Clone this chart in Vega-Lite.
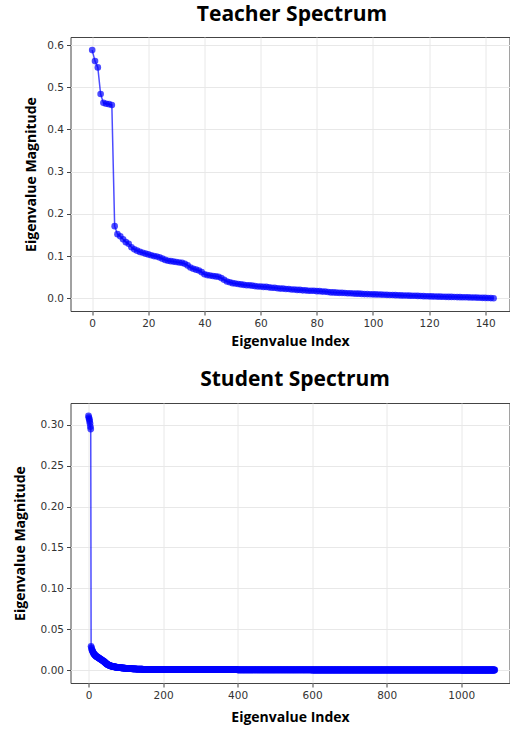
{
"$schema": "https://vega.github.io/schema/vega-lite/v6.json",
"padding": {"left": 12.5, "top": 3, "right": 0, "bottom": 0},
"spacing": 19,
"config": {
 "view": {"stroke": "#444", "strokeWidth": 1},
 "axis": {"grid": true, "gridColor": "#e8e8e8", "gridWidth": 1, "domain": false, "tickColor": "#444", "tickSize": 4, "labelFont": "DejaVu Sans", "labelFontSize": 10.5, "labelColor": "#333", "labelPadding": 3, "titleFont": "Open Sans", "titleFontSize": 14, "titleFontWeight": "bold", "titleColor": "#000"},
 "title": {"font": "Open Sans", "fontSize": 21, "fontWeight": "bold", "color": "#000", "anchor": "middle", "baseline": "alphabetic"}
},
"datasets": {
"teacher": [
{"i":0,"v":0.588},{"i":1,"v":0.562},{"i":2,"v":0.547},{"i":3,"v":0.484},{"i":4,"v":0.463},{"i":5,"v":0.461},{"i":6,"v":0.46},{"i":7,"v":0.458},{"i":8,"v":0.171},{"i":9,"v":0.152},
{"i":10,"v":0.147},{"i":11,"v":0.14},{"i":12,"v":0.133},{"i":13,"v":0.129},{"i":14,"v":0.121},{"i":15,"v":0.116},{"i":16,"v":0.113},{"i":17,"v":0.11},{"i":18,"v":0.108},{"i":19,"v":0.106},
{"i":20,"v":0.104},{"i":21,"v":0.102},{"i":22,"v":0.1},{"i":23,"v":0.099},{"i":24,"v":0.097},{"i":25,"v":0.094},{"i":26,"v":0.091},{"i":27,"v":0.089},{"i":28,"v":0.088},{"i":29,"v":0.087},
{"i":30,"v":0.086},{"i":31,"v":0.085},{"i":32,"v":0.084},{"i":33,"v":0.082},{"i":34,"v":0.078},{"i":35,"v":0.073},{"i":36,"v":0.07},{"i":37,"v":0.068},{"i":38,"v":0.066},{"i":39,"v":0.062},
{"i":40,"v":0.057},{"i":41,"v":0.055},{"i":42,"v":0.054},{"i":43,"v":0.053},{"i":44,"v":0.052},{"i":45,"v":0.051},{"i":46,"v":0.048},{"i":47,"v":0.044},{"i":48,"v":0.04},{"i":49,"v":0.038},
{"i":50,"v":0.036},{"i":51,"v":0.035},{"i":52,"v":0.034},{"i":53,"v":0.033},{"i":54,"v":0.032},{"i":55,"v":0.031},{"i":56,"v":0.031},{"i":57,"v":0.03},{"i":58,"v":0.029},{"i":59,"v":0.028},
{"i":60,"v":0.028},{"i":61,"v":0.027},{"i":62,"v":0.027},{"i":63,"v":0.026},{"i":64,"v":0.025},{"i":65,"v":0.025},{"i":66,"v":0.024},{"i":67,"v":0.023},{"i":68,"v":0.023},{"i":69,"v":0.022},
{"i":70,"v":0.022},{"i":71,"v":0.021},{"i":72,"v":0.021},{"i":73,"v":0.02},{"i":74,"v":0.02},{"i":75,"v":0.019},{"i":76,"v":0.019},{"i":77,"v":0.018},{"i":78,"v":0.018},{"i":79,"v":0.018},
{"i":80,"v":0.017},{"i":81,"v":0.017},{"i":82,"v":0.016},{"i":83,"v":0.016},{"i":84,"v":0.015},{"i":85,"v":0.014},{"i":86,"v":0.014},{"i":87,"v":0.0135},{"i":88,"v":0.013},{"i":89,"v":0.013},
{"i":90,"v":0.0125},{"i":91,"v":0.012},{"i":92,"v":0.012},{"i":93,"v":0.0115},{"i":94,"v":0.011},{"i":95,"v":0.011},{"i":96,"v":0.0105},{"i":97,"v":0.01},{"i":98,"v":0.01},{"i":99,"v":0.0098},
{"i":100,"v":0.0095},{"i":101,"v":0.0093},{"i":102,"v":0.009},{"i":103,"v":0.0088},{"i":104,"v":0.0086},{"i":105,"v":0.0083},{"i":106,"v":0.008},{"i":107,"v":0.0078},{"i":108,"v":0.0076},{"i":109,"v":0.0073},
{"i":110,"v":0.007},{"i":111,"v":0.0068},{"i":112,"v":0.0066},{"i":113,"v":0.0064},{"i":114,"v":0.0062},{"i":115,"v":0.006},{"i":116,"v":0.0058},{"i":117,"v":0.0055},{"i":118,"v":0.0052},{"i":119,"v":0.005},
{"i":120,"v":0.0047},{"i":121,"v":0.0045},{"i":122,"v":0.0043},{"i":123,"v":0.0041},{"i":124,"v":0.004},{"i":125,"v":0.0038},{"i":126,"v":0.0036},{"i":127,"v":0.0034},{"i":128,"v":0.0033},{"i":129,"v":0.0031},
{"i":130,"v":0.003},{"i":131,"v":0.0028},{"i":132,"v":0.0026},{"i":133,"v":0.0025},{"i":134,"v":0.0023},{"i":135,"v":0.0021},{"i":136,"v":0.0019},{"i":137,"v":0.0017},{"i":138,"v":0.0014},{"i":139,"v":0.0012},
{"i":140,"v":0.001},{"i":141,"v":0.0008},{"i":142,"v":0.0005},{"i":143,"v":0.0002}
],
"student": [
{"i":0,"v":0.311},{"i":1,"v":0.309},{"i":2,"v":0.307},{"i":3,"v":0.305},{"i":4,"v":0.302},{"i":5,"v":0.298},{"i":6,"v":0.295},{"i":7,"v":0.029},{"i":8,"v":0.027},{"i":9,"v":0.025},
{"i":10,"v":0.024},{"i":11,"v":0.023},{"i":12,"v":0.022},{"i":13,"v":0.021},{"i":14,"v":0.02},{"i":15,"v":0.0195},{"i":16,"v":0.019},{"i":17,"v":0.0185},{"i":18,"v":0.018},{"i":19,"v":0.0175},
{"i":20,"v":0.017},{"i":21,"v":0.0167},{"i":22,"v":0.0164},{"i":23,"v":0.0161},{"i":24,"v":0.0158},{"i":25,"v":0.0155},{"i":26,"v":0.0152},{"i":27,"v":0.0149},{"i":28,"v":0.0146},{"i":29,"v":0.0143},
{"i":30,"v":0.014},{"i":31,"v":0.0137},{"i":32,"v":0.0134},{"i":33,"v":0.0131},{"i":34,"v":0.0128},{"i":35,"v":0.0125},{"i":36,"v":0.0122},{"i":37,"v":0.0119},{"i":38,"v":0.0116},{"i":39,"v":0.0113},
{"i":40,"v":0.011},{"i":41,"v":0.0106},{"i":42,"v":0.0102},{"i":43,"v":0.0098},{"i":44,"v":0.0094},{"i":45,"v":0.009},{"i":46,"v":0.0086},{"i":47,"v":0.0082},{"i":48,"v":0.0078},{"i":49,"v":0.0075},
{"i":50,"v":0.0072},{"i":51,"v":0.0069},{"i":52,"v":0.0066},{"i":53,"v":0.0063},{"i":54,"v":0.0061},{"i":55,"v":0.0059},{"i":56,"v":0.0057},{"i":57,"v":0.0055},{"i":58,"v":0.0053},{"i":59,"v":0.0051},
{"i":60,"v":0.005},{"i":61,"v":0.0048},{"i":62,"v":0.0047},{"i":63,"v":0.0046},{"i":64,"v":0.0045},{"i":65,"v":0.0044},{"i":66,"v":0.0043},{"i":67,"v":0.0042},{"i":68,"v":0.0041},{"i":69,"v":0.004},
{"i":70,"v":0.0039},{"i":71,"v":0.0038},{"i":72,"v":0.0037},{"i":73,"v":0.0036},{"i":74,"v":0.0035},{"i":75,"v":0.0034},{"i":76,"v":0.0034},{"i":77,"v":0.0033},{"i":78,"v":0.0033},{"i":79,"v":0.0032},
{"i":80,"v":0.0032},{"i":81,"v":0.0031},{"i":82,"v":0.0031},{"i":83,"v":0.003},{"i":84,"v":0.0029},{"i":85,"v":0.0029},{"i":86,"v":0.0028},{"i":87,"v":0.0028},{"i":88,"v":0.0027},{"i":89,"v":0.0027},
{"i":90,"v":0.0026},{"i":91,"v":0.0026},{"i":92,"v":0.0025},{"i":93,"v":0.0025},{"i":94,"v":0.0024},{"i":95,"v":0.0024},{"i":96,"v":0.0023},{"i":97,"v":0.0023},{"i":98,"v":0.0022},{"i":99,"v":0.0022},
{"i":100,"v":0.0021},{"i":101,"v":0.0021},{"i":102,"v":0.0021},{"i":103,"v":0.002},{"i":104,"v":0.002},{"i":105,"v":0.0019},{"i":106,"v":0.0019},{"i":107,"v":0.0019},{"i":108,"v":0.0018},{"i":109,"v":0.0018},
{"i":110,"v":0.0018},{"i":111,"v":0.0017},{"i":112,"v":0.0017},{"i":113,"v":0.0017},{"i":114,"v":0.0016},{"i":115,"v":0.0016},{"i":116,"v":0.0016},{"i":117,"v":0.0015},{"i":118,"v":0.0015},{"i":119,"v":0.0015},
{"i":120,"v":0.0014},{"i":121,"v":0.0014},{"i":122,"v":0.0014},{"i":123,"v":0.0014},{"i":124,"v":0.0013},{"i":125,"v":0.0013},{"i":126,"v":0.0013},{"i":127,"v":0.0013},{"i":128,"v":0.0012},{"i":129,"v":0.0012},
{"i":130,"v":0.0012},{"i":131,"v":0.0012},{"i":132,"v":0.0012},{"i":133,"v":0.0011},{"i":134,"v":0.0011},{"i":135,"v":0.0011},{"i":136,"v":0.0011},{"i":137,"v":0.0011},{"i":138,"v":0.0011},{"i":139,"v":0.0011},
{"i":140,"v":0.001},{"i":141,"v":0.001},{"i":142,"v":0.001},{"i":143,"v":0.001},{"i":144,"v":0.001},{"i":145,"v":0.001},{"i":146,"v":0.0009},{"i":147,"v":0.0009},{"i":148,"v":0.0009},{"i":149,"v":0.0009},
{"i":150,"v":0.0009},{"i":151,"v":0.0009},{"i":152,"v":0.0009},{"i":153,"v":0.0009},{"i":154,"v":0.0009},{"i":155,"v":0.0009},{"i":156,"v":0.0009},{"i":157,"v":0.0009},{"i":158,"v":0.0009},{"i":159,"v":0.0009},
{"i":160,"v":0.0009},{"i":161,"v":0.0009},{"i":162,"v":0.0009},{"i":163,"v":0.0009},{"i":164,"v":0.0009},{"i":165,"v":0.0009},{"i":166,"v":0.0009},{"i":167,"v":0.0009},{"i":168,"v":0.0009},{"i":169,"v":0.0009},
{"i":170,"v":0.0009},{"i":171,"v":0.0009},{"i":172,"v":0.0009},{"i":173,"v":0.0009},{"i":174,"v":0.0009},{"i":175,"v":0.0009},{"i":176,"v":0.0009},{"i":177,"v":0.0009},{"i":178,"v":0.0009},{"i":179,"v":0.0009},
{"i":180,"v":0.0008},{"i":181,"v":0.0008},{"i":182,"v":0.0008},{"i":183,"v":0.0008},{"i":184,"v":0.0008},{"i":185,"v":0.0008},{"i":186,"v":0.0008},{"i":187,"v":0.0008},{"i":188,"v":0.0008},{"i":189,"v":0.0008},
{"i":190,"v":0.0008},{"i":191,"v":0.0008},{"i":192,"v":0.0008},{"i":193,"v":0.0008},{"i":194,"v":0.0008},{"i":195,"v":0.0008},{"i":196,"v":0.0008},{"i":197,"v":0.0008},{"i":198,"v":0.0008},{"i":199,"v":0.0008},
{"i":200,"v":0.0008},{"i":201,"v":0.0008},{"i":202,"v":0.0008},{"i":203,"v":0.0008},{"i":204,"v":0.0008},{"i":205,"v":0.0008},{"i":206,"v":0.0008},{"i":207,"v":0.0008},{"i":208,"v":0.0008},{"i":209,"v":0.0008},
{"i":210,"v":0.0008},{"i":211,"v":0.0008},{"i":212,"v":0.0008},{"i":213,"v":0.0008},{"i":214,"v":0.0008},{"i":215,"v":0.0008},{"i":216,"v":0.0008},{"i":217,"v":0.0008},{"i":218,"v":0.0008},{"i":219,"v":0.0008},
{"i":220,"v":0.0007},{"i":221,"v":0.0007},{"i":222,"v":0.0007},{"i":223,"v":0.0007},{"i":224,"v":0.0007},{"i":225,"v":0.0007},{"i":226,"v":0.0007},{"i":227,"v":0.0007},{"i":228,"v":0.0007},{"i":229,"v":0.0007},
{"i":230,"v":0.0007},{"i":231,"v":0.0007},{"i":232,"v":0.0007},{"i":233,"v":0.0007},{"i":234,"v":0.0007},{"i":235,"v":0.0007},{"i":236,"v":0.0007},{"i":237,"v":0.0007},{"i":238,"v":0.0007},{"i":239,"v":0.0007},
{"i":240,"v":0.0007},{"i":241,"v":0.0007},{"i":242,"v":0.0007},{"i":243,"v":0.0007},{"i":244,"v":0.0007},{"i":245,"v":0.0007},{"i":246,"v":0.0007},{"i":247,"v":0.0007},{"i":248,"v":0.0007},{"i":249,"v":0.0007},
{"i":250,"v":0.0007},{"i":251,"v":0.0007},{"i":252,"v":0.0007},{"i":253,"v":0.0007},{"i":254,"v":0.0007},{"i":255,"v":0.0007},{"i":256,"v":0.0007},{"i":257,"v":0.0007},{"i":258,"v":0.0007},{"i":259,"v":0.0007},
{"i":260,"v":0.0006},{"i":261,"v":0.0006},{"i":262,"v":0.0006},{"i":263,"v":0.0006},{"i":264,"v":0.0006},{"i":265,"v":0.0006},{"i":266,"v":0.0006},{"i":267,"v":0.0006},{"i":268,"v":0.0006},{"i":269,"v":0.0006},
{"i":270,"v":0.0006},{"i":271,"v":0.0006},{"i":272,"v":0.0006},{"i":273,"v":0.0006},{"i":274,"v":0.0006},{"i":275,"v":0.0006},{"i":276,"v":0.0006},{"i":277,"v":0.0006},{"i":278,"v":0.0006},{"i":279,"v":0.0006},
{"i":280,"v":0.0006},{"i":281,"v":0.0006},{"i":282,"v":0.0006},{"i":283,"v":0.0006},{"i":284,"v":0.0006},{"i":285,"v":0.0006},{"i":286,"v":0.0006},{"i":287,"v":0.0006},{"i":288,"v":0.0006},{"i":289,"v":0.0006},
{"i":290,"v":0.0006},{"i":291,"v":0.0006},{"i":292,"v":0.0006},{"i":293,"v":0.0006},{"i":294,"v":0.0006},{"i":295,"v":0.0006},{"i":296,"v":0.0006},{"i":297,"v":0.0006},{"i":298,"v":0.0006},{"i":299,"v":0.0006},
{"i":300,"v":0.0005},{"i":301,"v":0.0005},{"i":302,"v":0.0005},{"i":303,"v":0.0005},{"i":304,"v":0.0005},{"i":305,"v":0.0005},{"i":306,"v":0.0005},{"i":307,"v":0.0005},{"i":308,"v":0.0005},{"i":309,"v":0.0005},
{"i":310,"v":0.0005},{"i":311,"v":0.0005},{"i":312,"v":0.0005},{"i":313,"v":0.0005},{"i":314,"v":0.0005},{"i":315,"v":0.0005},{"i":316,"v":0.0005},{"i":317,"v":0.0005},{"i":318,"v":0.0005},{"i":319,"v":0.0005},
{"i":320,"v":0.0005},{"i":321,"v":0.0005},{"i":322,"v":0.0005},{"i":323,"v":0.0005},{"i":324,"v":0.0005},{"i":325,"v":0.0005},{"i":326,"v":0.0005},{"i":327,"v":0.0005},{"i":328,"v":0.0005},{"i":329,"v":0.0005},
{"i":330,"v":0.0005},{"i":331,"v":0.0005},{"i":332,"v":0.0005},{"i":333,"v":0.0005},{"i":334,"v":0.0005},{"i":335,"v":0.0005},{"i":336,"v":0.0005},{"i":337,"v":0.0005},{"i":338,"v":0.0005},{"i":339,"v":0.0005},
{"i":340,"v":0.0005},{"i":341,"v":0.0005},{"i":342,"v":0.0005},{"i":343,"v":0.0005},{"i":344,"v":0.0005},{"i":345,"v":0.0005},{"i":346,"v":0.0005},{"i":347,"v":0.0005},{"i":348,"v":0.0005},{"i":349,"v":0.0005},
{"i":350,"v":0.0004},{"i":351,"v":0.0004},{"i":352,"v":0.0004},{"i":353,"v":0.0004},{"i":354,"v":0.0004},{"i":355,"v":0.0004},{"i":356,"v":0.0004},{"i":357,"v":0.0004},{"i":358,"v":0.0004},{"i":359,"v":0.0004},
{"i":360,"v":0.0004},{"i":361,"v":0.0004},{"i":362,"v":0.0004},{"i":363,"v":0.0004},{"i":364,"v":0.0004},{"i":365,"v":0.0004},{"i":366,"v":0.0004},{"i":367,"v":0.0004},{"i":368,"v":0.0004},{"i":369,"v":0.0004},
{"i":370,"v":0.0004},{"i":371,"v":0.0004},{"i":372,"v":0.0004},{"i":373,"v":0.0004},{"i":374,"v":0.0004},{"i":375,"v":0.0004},{"i":376,"v":0.0004},{"i":377,"v":0.0004},{"i":378,"v":0.0004},{"i":379,"v":0.0004},
{"i":380,"v":0.0004},{"i":381,"v":0.0004},{"i":382,"v":0.0004},{"i":383,"v":0.0004},{"i":384,"v":0.0004},{"i":385,"v":0.0004},{"i":386,"v":0.0004},{"i":387,"v":0.0004},{"i":388,"v":0.0004},{"i":389,"v":0.0004},
{"i":390,"v":0.0004},{"i":391,"v":0.0004},{"i":392,"v":0.0004},{"i":393,"v":0.0004},{"i":394,"v":0.0004},{"i":395,"v":0.0004},{"i":396,"v":0.0004},{"i":397,"v":0.0004},{"i":398,"v":0.0004},{"i":399,"v":0.0004},
{"i":400,"v":0.0003},{"i":401,"v":0.0003},{"i":402,"v":0.0003},{"i":403,"v":0.0003},{"i":404,"v":0.0003},{"i":405,"v":0.0003},{"i":406,"v":0.0003},{"i":407,"v":0.0003},{"i":408,"v":0.0003},{"i":409,"v":0.0003},
{"i":410,"v":0.0003},{"i":411,"v":0.0003},{"i":412,"v":0.0003},{"i":413,"v":0.0003},{"i":414,"v":0.0003},{"i":415,"v":0.0003},{"i":416,"v":0.0003},{"i":417,"v":0.0003},{"i":418,"v":0.0003},{"i":419,"v":0.0003},
{"i":420,"v":0.0003},{"i":421,"v":0.0003},{"i":422,"v":0.0003},{"i":423,"v":0.0003},{"i":424,"v":0.0003},{"i":425,"v":0.0003},{"i":426,"v":0.0003},{"i":427,"v":0.0003},{"i":428,"v":0.0003},{"i":429,"v":0.0003},
{"i":430,"v":0.0003},{"i":431,"v":0.0003},{"i":432,"v":0.0003},{"i":433,"v":0.0003},{"i":434,"v":0.0003},{"i":435,"v":0.0003},{"i":436,"v":0.0003},{"i":437,"v":0.0003},{"i":438,"v":0.0003},{"i":439,"v":0.0003},
{"i":440,"v":0.0003},{"i":441,"v":0.0003},{"i":442,"v":0.0003},{"i":443,"v":0.0003},{"i":444,"v":0.0003},{"i":445,"v":0.0003},{"i":446,"v":0.0003},{"i":447,"v":0.0003},{"i":448,"v":0.0003},{"i":449,"v":0.0003},
{"i":450,"v":0.0003},{"i":451,"v":0.0003},{"i":452,"v":0.0003},{"i":453,"v":0.0003},{"i":454,"v":0.0003},{"i":455,"v":0.0003},{"i":456,"v":0.0003},{"i":457,"v":0.0003},{"i":458,"v":0.0003},{"i":459,"v":0.0003},
{"i":460,"v":0.0003},{"i":461,"v":0.0003},{"i":462,"v":0.0003},{"i":463,"v":0.0003},{"i":464,"v":0.0003},{"i":465,"v":0.0003},{"i":466,"v":0.0003},{"i":467,"v":0.0003},{"i":468,"v":0.0003},{"i":469,"v":0.0003},
{"i":470,"v":0.0003},{"i":471,"v":0.0003},{"i":472,"v":0.0003},{"i":473,"v":0.0003},{"i":474,"v":0.0003},{"i":475,"v":0.0003},{"i":476,"v":0.0003},{"i":477,"v":0.0003},{"i":478,"v":0.0003},{"i":479,"v":0.0003},
{"i":480,"v":0.0002},{"i":481,"v":0.0002},{"i":482,"v":0.0002},{"i":483,"v":0.0002},{"i":484,"v":0.0002},{"i":485,"v":0.0002},{"i":486,"v":0.0002},{"i":487,"v":0.0002},{"i":488,"v":0.0002},{"i":489,"v":0.0002},
{"i":490,"v":0.0002},{"i":491,"v":0.0002},{"i":492,"v":0.0002},{"i":493,"v":0.0002},{"i":494,"v":0.0002},{"i":495,"v":0.0002},{"i":496,"v":0.0002},{"i":497,"v":0.0002},{"i":498,"v":0.0002},{"i":499,"v":0.0002},
{"i":500,"v":0.0002},{"i":501,"v":0.0002},{"i":502,"v":0.0002},{"i":503,"v":0.0002},{"i":504,"v":0.0002},{"i":505,"v":0.0002},{"i":506,"v":0.0002},{"i":507,"v":0.0002},{"i":508,"v":0.0002},{"i":509,"v":0.0002},
{"i":510,"v":0.0002},{"i":511,"v":0.0002},{"i":512,"v":0.0002},{"i":513,"v":0.0002},{"i":514,"v":0.0002},{"i":515,"v":0.0002},{"i":516,"v":0.0002},{"i":517,"v":0.0002},{"i":518,"v":0.0002},{"i":519,"v":0.0002},
{"i":520,"v":0.0002},{"i":521,"v":0.0002},{"i":522,"v":0.0002},{"i":523,"v":0.0002},{"i":524,"v":0.0002},{"i":525,"v":0.0002},{"i":526,"v":0.0002},{"i":527,"v":0.0002},{"i":528,"v":0.0002},{"i":529,"v":0.0002},
{"i":530,"v":0.0002},{"i":531,"v":0.0002},{"i":532,"v":0.0002},{"i":533,"v":0.0002},{"i":534,"v":0.0002},{"i":535,"v":0.0002},{"i":536,"v":0.0002},{"i":537,"v":0.0002},{"i":538,"v":0.0002},{"i":539,"v":0.0002},
{"i":540,"v":0.0002},{"i":541,"v":0.0002},{"i":542,"v":0.0002},{"i":543,"v":0.0002},{"i":544,"v":0.0002},{"i":545,"v":0.0002},{"i":546,"v":0.0002},{"i":547,"v":0.0002},{"i":548,"v":0.0002},{"i":549,"v":0.0002},
{"i":550,"v":0.0002},{"i":551,"v":0.0002},{"i":552,"v":0.0002},{"i":553,"v":0.0002},{"i":554,"v":0.0002},{"i":555,"v":0.0002},{"i":556,"v":0.0002},{"i":557,"v":0.0002},{"i":558,"v":0.0002},{"i":559,"v":0.0002},
{"i":560,"v":0.0002},{"i":561,"v":0.0002},{"i":562,"v":0.0002},{"i":563,"v":0.0002},{"i":564,"v":0.0002},{"i":565,"v":0.0002},{"i":566,"v":0.0002},{"i":567,"v":0.0002},{"i":568,"v":0.0002},{"i":569,"v":0.0002},
{"i":570,"v":0.0002},{"i":571,"v":0.0002},{"i":572,"v":0.0002},{"i":573,"v":0.0002},{"i":574,"v":0.0002},{"i":575,"v":0.0002},{"i":576,"v":0.0002},{"i":577,"v":0.0002},{"i":578,"v":0.0002},{"i":579,"v":0.0002},
{"i":580,"v":0.0002},{"i":581,"v":0.0002},{"i":582,"v":0.0002},{"i":583,"v":0.0002},{"i":584,"v":0.0002},{"i":585,"v":0.0002},{"i":586,"v":0.0002},{"i":587,"v":0.0002},{"i":588,"v":0.0002},{"i":589,"v":0.0002},
{"i":590,"v":0.0002},{"i":591,"v":0.0002},{"i":592,"v":0.0002},{"i":593,"v":0.0002},{"i":594,"v":0.0002},{"i":595,"v":0.0002},{"i":596,"v":0.0002},{"i":597,"v":0.0002},{"i":598,"v":0.0002},{"i":599,"v":0.0002},
{"i":600,"v":0.0001},{"i":601,"v":0.0001},{"i":602,"v":0.0001},{"i":603,"v":0.0001},{"i":604,"v":0.0001},{"i":605,"v":0.0001},{"i":606,"v":0.0001},{"i":607,"v":0.0001},{"i":608,"v":0.0001},{"i":609,"v":0.0001},
{"i":610,"v":0.0001},{"i":611,"v":0.0001},{"i":612,"v":0.0001},{"i":613,"v":0.0001},{"i":614,"v":0.0001},{"i":615,"v":0.0001},{"i":616,"v":0.0001},{"i":617,"v":0.0001},{"i":618,"v":0.0001},{"i":619,"v":0.0001},
{"i":620,"v":0.0001},{"i":621,"v":0.0001},{"i":622,"v":0.0001},{"i":623,"v":0.0001},{"i":624,"v":0.0001},{"i":625,"v":0.0001},{"i":626,"v":0.0001},{"i":627,"v":0.0001},{"i":628,"v":0.0001},{"i":629,"v":0.0001},
{"i":630,"v":0.0001},{"i":631,"v":0.0001},{"i":632,"v":0.0001},{"i":633,"v":0.0001},{"i":634,"v":0.0001},{"i":635,"v":0.0001},{"i":636,"v":0.0001},{"i":637,"v":0.0001},{"i":638,"v":0.0001},{"i":639,"v":0.0001},
{"i":640,"v":0.0001},{"i":641,"v":0.0001},{"i":642,"v":0.0001},{"i":643,"v":0.0001},{"i":644,"v":0.0001},{"i":645,"v":0.0001},{"i":646,"v":0.0001},{"i":647,"v":0.0001},{"i":648,"v":0.0001},{"i":649,"v":0.0001},
{"i":650,"v":0.0001},{"i":651,"v":0.0001},{"i":652,"v":0.0001},{"i":653,"v":0.0001},{"i":654,"v":0.0001},{"i":655,"v":0.0001},{"i":656,"v":0.0001},{"i":657,"v":0.0001},{"i":658,"v":0.0001},{"i":659,"v":0.0001},
{"i":660,"v":0.0001},{"i":661,"v":0.0001},{"i":662,"v":0.0001},{"i":663,"v":0.0001},{"i":664,"v":0.0001},{"i":665,"v":0.0001},{"i":666,"v":0.0001},{"i":667,"v":0.0001},{"i":668,"v":0.0001},{"i":669,"v":0.0001},
{"i":670,"v":0.0001},{"i":671,"v":0.0001},{"i":672,"v":0.0001},{"i":673,"v":0.0001},{"i":674,"v":0.0001},{"i":675,"v":0.0001},{"i":676,"v":0.0001},{"i":677,"v":0.0001},{"i":678,"v":0.0001},{"i":679,"v":0.0001},
{"i":680,"v":0.0001},{"i":681,"v":0.0001},{"i":682,"v":0.0001},{"i":683,"v":0.0001},{"i":684,"v":0.0001},{"i":685,"v":0.0001},{"i":686,"v":0.0001},{"i":687,"v":0.0001},{"i":688,"v":0.0001},{"i":689,"v":0.0001},
{"i":690,"v":0.0001},{"i":691,"v":0.0001},{"i":692,"v":0.0001},{"i":693,"v":0.0001},{"i":694,"v":0.0001},{"i":695,"v":0.0001},{"i":696,"v":0.0001},{"i":697,"v":0.0001},{"i":698,"v":0.0001},{"i":699,"v":0.0001},
{"i":700,"v":0.0001},{"i":701,"v":0.0001},{"i":702,"v":0.0001},{"i":703,"v":0.0001},{"i":704,"v":0.0001},{"i":705,"v":0.0001},{"i":706,"v":0.0001},{"i":707,"v":0.0001},{"i":708,"v":0.0001},{"i":709,"v":0.0001},
{"i":710,"v":0.0001},{"i":711,"v":0.0001},{"i":712,"v":0.0001},{"i":713,"v":0.0001},{"i":714,"v":0.0001},{"i":715,"v":0.0001},{"i":716,"v":0.0001},{"i":717,"v":0.0001},{"i":718,"v":0.0001},{"i":719,"v":0.0001},
{"i":720,"v":0.0001},{"i":721,"v":0.0001},{"i":722,"v":0.0001},{"i":723,"v":0.0001},{"i":724,"v":0.0001},{"i":725,"v":0.0001},{"i":726,"v":0.0001},{"i":727,"v":0.0001},{"i":728,"v":0.0001},{"i":729,"v":0.0001},
{"i":730,"v":0.0001},{"i":731,"v":0.0001},{"i":732,"v":0.0001},{"i":733,"v":0.0001},{"i":734,"v":0.0001},{"i":735,"v":0.0001},{"i":736,"v":0.0001},{"i":737,"v":0.0001},{"i":738,"v":0.0001},{"i":739,"v":0.0001},
{"i":740,"v":0.0001},{"i":741,"v":0.0001},{"i":742,"v":0.0001},{"i":743,"v":0.0001},{"i":744,"v":0.0001},{"i":745,"v":0.0001},{"i":746,"v":0.0001},{"i":747,"v":0.0001},{"i":748,"v":0.0001},{"i":749,"v":0.0001},
{"i":750,"v":0.0001},{"i":751,"v":0.0001},{"i":752,"v":0.0001},{"i":753,"v":0.0001},{"i":754,"v":0.0001},{"i":755,"v":0.0001},{"i":756,"v":0.0001},{"i":757,"v":0.0001},{"i":758,"v":0.0001},{"i":759,"v":0.0001},
{"i":760,"v":0.0001},{"i":761,"v":0.0001},{"i":762,"v":0.0001},{"i":763,"v":0.0001},{"i":764,"v":0.0001},{"i":765,"v":0.0001},{"i":766,"v":0.0001},{"i":767,"v":0.0001},{"i":768,"v":0.0001},{"i":769,"v":0.0001},
{"i":770,"v":0.0001},{"i":771,"v":0.0001},{"i":772,"v":0.0001},{"i":773,"v":0.0001},{"i":774,"v":0.0001},{"i":775,"v":0.0001},{"i":776,"v":0.0001},{"i":777,"v":0.0001},{"i":778,"v":0.0001},{"i":779,"v":0.0001},
{"i":780,"v":0.0001},{"i":781,"v":0.0001},{"i":782,"v":0.0001},{"i":783,"v":0.0001},{"i":784,"v":0.0001},{"i":785,"v":0.0001},{"i":786,"v":0.0001},{"i":787,"v":0.0001},{"i":788,"v":0.0001},{"i":789,"v":0.0001},
{"i":790,"v":0.0001},{"i":791,"v":0.0001},{"i":792,"v":0.0001},{"i":793,"v":0.0001},{"i":794,"v":0.0001},{"i":795,"v":0.0001},{"i":796,"v":0.0001},{"i":797,"v":0.0001},{"i":798,"v":0.0001},{"i":799,"v":0.0001},
{"i":800,"v":0.00005},{"i":801,"v":0.00005},{"i":802,"v":0.00005},{"i":803,"v":0.00005},{"i":804,"v":0.00005},{"i":805,"v":0.00005},{"i":806,"v":0.00005},{"i":807,"v":0.00005},{"i":808,"v":0.00005},{"i":809,"v":0.00005},
{"i":810,"v":0.00005},{"i":811,"v":0.00005},{"i":812,"v":0.00005},{"i":813,"v":0.00005},{"i":814,"v":0.00005},{"i":815,"v":0.00005},{"i":816,"v":0.00005},{"i":817,"v":0.00005},{"i":818,"v":0.00005},{"i":819,"v":0.00005},
{"i":820,"v":0.00005},{"i":821,"v":0.00005},{"i":822,"v":0.00005},{"i":823,"v":0.00005},{"i":824,"v":0.00005},{"i":825,"v":0.00005},{"i":826,"v":0.00005},{"i":827,"v":0.00005},{"i":828,"v":0.00005},{"i":829,"v":0.00005},
{"i":830,"v":0.00005},{"i":831,"v":0.00005},{"i":832,"v":0.00005},{"i":833,"v":0.00005},{"i":834,"v":0.00005},{"i":835,"v":0.00005},{"i":836,"v":0.00005},{"i":837,"v":0.00005},{"i":838,"v":0.00005},{"i":839,"v":0.00005},
{"i":840,"v":0.00005},{"i":841,"v":0.00005},{"i":842,"v":0.00005},{"i":843,"v":0.00005},{"i":844,"v":0.00005},{"i":845,"v":0.00005},{"i":846,"v":0.00005},{"i":847,"v":0.00005},{"i":848,"v":0.00005},{"i":849,"v":0.00005},
{"i":850,"v":0.00005},{"i":851,"v":0.00005},{"i":852,"v":0.00005},{"i":853,"v":0.00005},{"i":854,"v":0.00005},{"i":855,"v":0.00005},{"i":856,"v":0.00005},{"i":857,"v":0.00005},{"i":858,"v":0.00005},{"i":859,"v":0.00005},
{"i":860,"v":0.00005},{"i":861,"v":0.00005},{"i":862,"v":0.00005},{"i":863,"v":0.00005},{"i":864,"v":0.00005},{"i":865,"v":0.00005},{"i":866,"v":0.00005},{"i":867,"v":0.00005},{"i":868,"v":0.00005},{"i":869,"v":0.00005},
{"i":870,"v":0.00005},{"i":871,"v":0.00005},{"i":872,"v":0.00005},{"i":873,"v":0.00005},{"i":874,"v":0.00005},{"i":875,"v":0.00005},{"i":876,"v":0.00005},{"i":877,"v":0.00005},{"i":878,"v":0.00005},{"i":879,"v":0.00005},
{"i":880,"v":0.00005},{"i":881,"v":0.00005},{"i":882,"v":0.00005},{"i":883,"v":0.00005},{"i":884,"v":0.00005},{"i":885,"v":0.00005},{"i":886,"v":0.00005},{"i":887,"v":0.00005},{"i":888,"v":0.00005},{"i":889,"v":0.00005},
{"i":890,"v":0.00005},{"i":891,"v":0.00005},{"i":892,"v":0.00005},{"i":893,"v":0.00005},{"i":894,"v":0.00005},{"i":895,"v":0.00005},{"i":896,"v":0.00005},{"i":897,"v":0.00005},{"i":898,"v":0.00005},{"i":899,"v":0.00005},
{"i":900,"v":0.00005},{"i":901,"v":0.00005},{"i":902,"v":0.00005},{"i":903,"v":0.00005},{"i":904,"v":0.00005},{"i":905,"v":0.00005},{"i":906,"v":0.00005},{"i":907,"v":0.00005},{"i":908,"v":0.00005},{"i":909,"v":0.00005},
{"i":910,"v":0.00005},{"i":911,"v":0.00005},{"i":912,"v":0.00005},{"i":913,"v":0.00005},{"i":914,"v":0.00005},{"i":915,"v":0.00005},{"i":916,"v":0.00005},{"i":917,"v":0.00005},{"i":918,"v":0.00005},{"i":919,"v":0.00005},
{"i":920,"v":0.00005},{"i":921,"v":0.00005},{"i":922,"v":0.00005},{"i":923,"v":0.00005},{"i":924,"v":0.00005},{"i":925,"v":0.00005},{"i":926,"v":0.00005},{"i":927,"v":0.00005},{"i":928,"v":0.00005},{"i":929,"v":0.00005},
{"i":930,"v":0.00005},{"i":931,"v":0.00005},{"i":932,"v":0.00005},{"i":933,"v":0.00005},{"i":934,"v":0.00005},{"i":935,"v":0.00005},{"i":936,"v":0.00005},{"i":937,"v":0.00005},{"i":938,"v":0.00005},{"i":939,"v":0.00005},
{"i":940,"v":0.00005},{"i":941,"v":0.00005},{"i":942,"v":0.00005},{"i":943,"v":0.00005},{"i":944,"v":0.00005},{"i":945,"v":0.00005},{"i":946,"v":0.00005},{"i":947,"v":0.00005},{"i":948,"v":0.00005},{"i":949,"v":0.00005},
{"i":950,"v":0.00005},{"i":951,"v":0.00005},{"i":952,"v":0.00005},{"i":953,"v":0.00005},{"i":954,"v":0.00005},{"i":955,"v":0.00005},{"i":956,"v":0.00005},{"i":957,"v":0.00005},{"i":958,"v":0.00005},{"i":959,"v":0.00005},
{"i":960,"v":0.00005},{"i":961,"v":0.00005},{"i":962,"v":0.00005},{"i":963,"v":0.00005},{"i":964,"v":0.00005},{"i":965,"v":0.00005},{"i":966,"v":0.00005},{"i":967,"v":0.00005},{"i":968,"v":0.00005},{"i":969,"v":0.00005},
{"i":970,"v":0.00005},{"i":971,"v":0.00005},{"i":972,"v":0.00005},{"i":973,"v":0.00005},{"i":974,"v":0.00005},{"i":975,"v":0.00005},{"i":976,"v":0.00005},{"i":977,"v":0.00005},{"i":978,"v":0.00005},{"i":979,"v":0.00005},
{"i":980,"v":0.00005},{"i":981,"v":0.00005},{"i":982,"v":0.00005},{"i":983,"v":0.00005},{"i":984,"v":0.00005},{"i":985,"v":0.00005},{"i":986,"v":0.00005},{"i":987,"v":0.00005},{"i":988,"v":0.00005},{"i":989,"v":0.00005},
{"i":990,"v":0.00005},{"i":991,"v":0.00005},{"i":992,"v":0.00005},{"i":993,"v":0.00005},{"i":994,"v":0.00005},{"i":995,"v":0.00005},{"i":996,"v":0.00005},{"i":997,"v":0.00005},{"i":998,"v":0.00005},{"i":999,"v":0.00005},
{"i":1000,"v":0},{"i":1001,"v":0},{"i":1002,"v":0},{"i":1003,"v":0},{"i":1004,"v":0},{"i":1005,"v":0},{"i":1006,"v":0},{"i":1007,"v":0},{"i":1008,"v":0},{"i":1009,"v":0},
{"i":1010,"v":0},{"i":1011,"v":0},{"i":1012,"v":0},{"i":1013,"v":0},{"i":1014,"v":0},{"i":1015,"v":0},{"i":1016,"v":0},{"i":1017,"v":0},{"i":1018,"v":0},{"i":1019,"v":0},
{"i":1020,"v":0},{"i":1021,"v":0},{"i":1022,"v":0},{"i":1023,"v":0},{"i":1024,"v":0},{"i":1025,"v":0},{"i":1026,"v":0},{"i":1027,"v":0},{"i":1028,"v":0},{"i":1029,"v":0},
{"i":1030,"v":0},{"i":1031,"v":0},{"i":1032,"v":0},{"i":1033,"v":0},{"i":1034,"v":0},{"i":1035,"v":0},{"i":1036,"v":0},{"i":1037,"v":0},{"i":1038,"v":0},{"i":1039,"v":0},
{"i":1040,"v":0},{"i":1041,"v":0},{"i":1042,"v":0},{"i":1043,"v":0},{"i":1044,"v":0},{"i":1045,"v":0},{"i":1046,"v":0},{"i":1047,"v":0},{"i":1048,"v":0},{"i":1049,"v":0},
{"i":1050,"v":0},{"i":1051,"v":0},{"i":1052,"v":0},{"i":1053,"v":0},{"i":1054,"v":0},{"i":1055,"v":0},{"i":1056,"v":0},{"i":1057,"v":0},{"i":1058,"v":0},{"i":1059,"v":0},
{"i":1060,"v":0},{"i":1061,"v":0},{"i":1062,"v":0},{"i":1063,"v":0},{"i":1064,"v":0},{"i":1065,"v":0},{"i":1066,"v":0},{"i":1067,"v":0},{"i":1068,"v":0},{"i":1069,"v":0},
{"i":1070,"v":0},{"i":1071,"v":0},{"i":1072,"v":0},{"i":1073,"v":0},{"i":1074,"v":0},{"i":1075,"v":0},{"i":1076,"v":0},{"i":1077,"v":0},{"i":1078,"v":0},{"i":1079,"v":0},
{"i":1080,"v":0},{"i":1081,"v":0},{"i":1082,"v":0},{"i":1083,"v":0},{"i":1084,"v":0},{"i":1085,"v":0},{"i":1086,"v":0},{"i":1087,"v":0},{"i":1088,"v":0},{"i":1089,"v":0},
{"i":1090,"v":0}
]
},
"vconcat": [
{
 "width": 439, "height": 274,
 "title": {"text": "Teacher Spectrum", "offset": 12, "dx": 2},
 "data": {"name": "teacher"},
 "encoding": {
  "x": {"field": "i", "type": "quantitative", "scale": {"domain": [-7.73, 148.66], "nice": false, "zero": false}, "axis": {"values": [0,20,40,60,80,100,120,140], "format": "d", "title": "Eigenvalue Index", "titlePadding": 6}},
  "y": {"field": "v", "type": "quantitative", "scale": {"domain": [-0.030, 0.619], "nice": false, "zero": false}, "axis": {"values": [0,0.1,0.2,0.3,0.4,0.5,0.6], "format": ".1f", "title": "Eigenvalue Magnitude", "titlePadding": 8}}
 },
 "layer": [
  {"mark": {"type": "line", "color": "#0000ff", "strokeWidth": 1.5, "opacity": 0.7}},
  {"mark": {"type": "point", "filled": true, "color": "#0000ff", "size": 44, "opacity": 0.7}}
 ]
},
{
 "width": 439, "height": 280,
 "title": {"text": "Student Spectrum", "offset": 13, "dx": 5},
 "data": {"name": "student"},
 "encoding": {
  "x": {"field": "i", "type": "quantitative", "scale": {"domain": [-48.3, 1129.6], "nice": false, "zero": false}, "axis": {"values": [0,200,400,600,800,1000], "format": "d", "title": "Eigenvalue Index", "titlePadding": 10}},
  "y": {"field": "v", "type": "quantitative", "scale": {"domain": [-0.0159, 0.3269], "nice": false, "zero": false}, "axis": {"values": [0,0.05,0.1,0.15,0.2,0.25,0.3], "format": ".2f", "title": "Eigenvalue Magnitude", "titlePadding": 13}}
 },
 "layer": [
  {"mark": {"type": "line", "color": "#0000ff", "strokeWidth": 1.5, "opacity": 0.7}},
  {"mark": {"type": "point", "filled": true, "color": "#0000ff", "size": 46, "opacity": 0.7}}
 ]
}
]
}
